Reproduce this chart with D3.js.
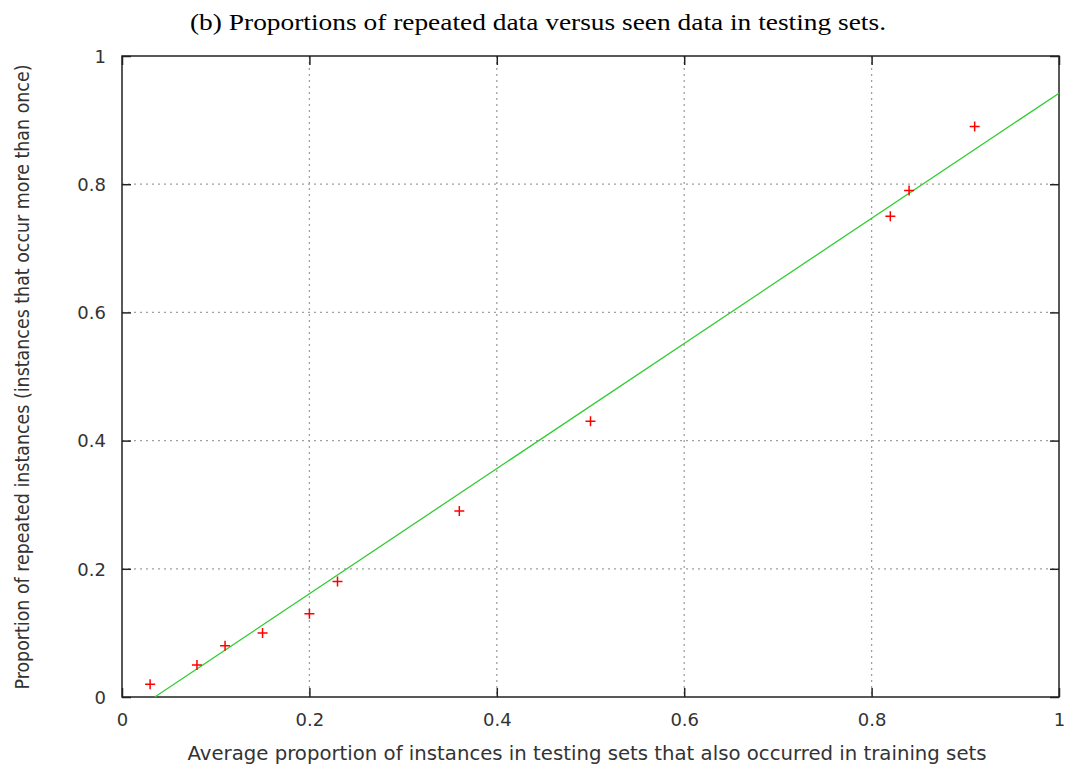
<!DOCTYPE html>
<html><head><meta charset="utf-8">
<script src="https://cdn.jsdelivr.net/npm/d3@7"></script>
<style>body{margin:0;background:#fff}</style>
</head><body>
<script>
const xValues = [0.03, 0.08, 0.11, 0.15, 0.20, 0.23, 0.36, 0.50, 0.82, 0.84, 0.91];
const yValues = [0.02, 0.05, 0.08, 0.10, 0.13, 0.18, 0.29, 0.43, 0.75, 0.79, 0.89];
const fitX = [0.035, 1.0];
const fitY = [0.0, 0.942];
const tickValues = [0, 0.2, 0.4, 0.6, 0.8, 1];
const tickLabels = ["0", "0.2", "0.4", "0.6", "0.8", "1"];
const title = "(b) Proportions of repeated data versus seen data in testing sets.";
const xLabel = "Average proportion of instances in testing sets that also occurred in training sets";
const yLabel = "Proportion of repeated instances (instances that occur more than once)";

const W = 1066, H = 767;
const L = 122, R = 1059, T = 56, B = 697;
const svg = d3.select("body").append("svg").attr("width", W).attr("height", H);
const x = d3.scaleLinear().domain([0, 1]).range([L, R]);
const y = d3.scaleLinear().domain([0, 1]).range([B, T]);
const sans = "'DejaVu Sans',sans-serif";
const cond = "'DejaVu Sans Condensed','DejaVu Sans',sans-serif";

// grid
const g = svg.append("g");
tickValues.slice(1, -1).forEach(v => {
  g.append("line").attr("x1", x(v)).attr("x2", x(v)).attr("y1", T).attr("y2", B)
    .attr("stroke", "#a0a0a0").attr("stroke-width", 1.3).attr("stroke-dasharray", "2,4");
  g.append("line").attr("x1", L).attr("x2", R).attr("y1", y(v)).attr("y2", y(v))
    .attr("stroke", "#a0a0a0").attr("stroke-width", 1.3).attr("stroke-dasharray", "2,4");
});

// axes with mirrored inward ticks
const fmt = (d, i) => tickLabels[i];
const ax = [
  [d3.axisBottom(x).tickValues(tickValues).tickSize(-9).tickFormat(fmt), `translate(0,${B})`],
  [d3.axisTop(x).tickValues(tickValues).tickSize(-9).tickFormat(""), `translate(0,${T})`],
  [d3.axisLeft(y).tickValues(tickValues).tickSize(-9).tickFormat(fmt), `translate(${L},0)`],
  [d3.axisRight(y).tickValues(tickValues).tickSize(-9).tickFormat(""), `translate(${R},0)`]
];
ax.forEach(([a, tr], k) => {
  const gg = svg.append("g").attr("transform", tr).call(a.tickSizeOuter(0));
  gg.select(".domain").remove();
  gg.selectAll(".tick line").attr("stroke", "#222").attr("stroke-width", 1.5);
  gg.selectAll("text").attr("font-family", sans).attr("font-size", 18).attr("fill", "#333");
  if (k === 0) gg.selectAll("text").attr("dy", "0").attr("y", 29);
  if (k === 2) gg.selectAll("text").attr("x", -16).attr("dy", "0.35em");
});
svg.append("rect").attr("x", L).attr("y", T).attr("width", R - L).attr("height", B - T)
  .attr("fill", "none").attr("stroke", "#222").attr("stroke-width", 1.5);

// fit line
const line = d3.line().x(d => x(d[0])).y(d => y(d[1]));
svg.append("path").datum(fitX.map((v, i) => [v, fitY[i]])).attr("d", line)
  .attr("fill", "none").attr("stroke", "#33cc33").attr("stroke-width", 1.3);

// points
const pts = svg.append("g");
xValues.forEach((v, i) => {
  const cx = x(v), cy = y(yValues[i]);
  pts.append("path").attr("d", `M${cx - 5},${cy}H${cx + 5}M${cx},${cy - 5}V${cy + 5}`)
    .attr("stroke", "#ff0000").attr("stroke-width", 1.5);
});

// labels
svg.append("text").attr("x", 538).attr("y", 30).attr("text-anchor", "middle")
  .attr("font-family", "'Liberation Serif','DejaVu Serif',serif").attr("font-size", 23)
  .attr("textLength", 696).attr("lengthAdjust", "spacingAndGlyphs").attr("fill", "#000").text(title);
svg.append("text").attr("x", 587).attr("y", 760).attr("text-anchor", "middle")
  .attr("font-family", sans).attr("font-size", 19)
  .attr("textLength", 799).attr("lengthAdjust", "spacingAndGlyphs").attr("fill", "#333").text(xLabel);
svg.append("text").attr("transform", `translate(29,${377}) rotate(-90)`).attr("text-anchor", "middle")
  .attr("font-family", cond).attr("font-size", 20)
  .attr("textLength", 625).attr("lengthAdjust", "spacingAndGlyphs").attr("fill", "#333").text(yLabel);
</script>
</body></html>
